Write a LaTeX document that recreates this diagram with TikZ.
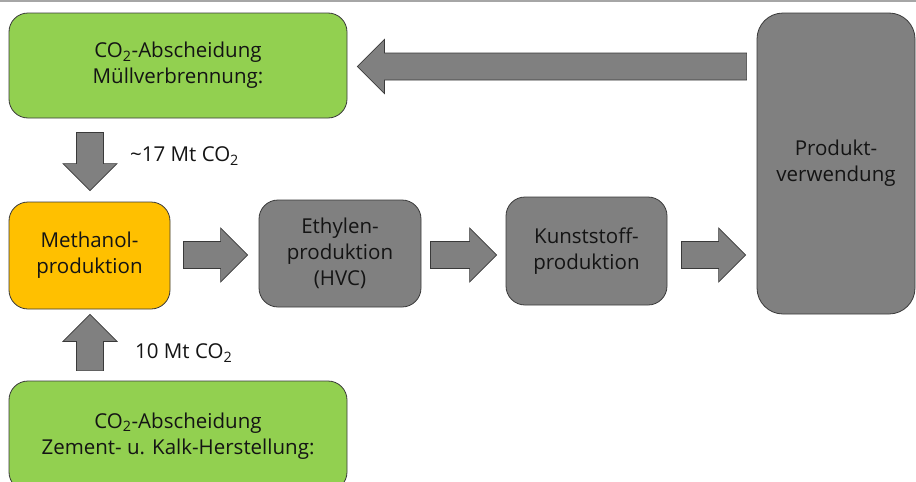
\documentclass[tikz,border=0pt]{standalone}
\usepackage{fontspec}
\setmainfont{Open Sans}
\usetikzlibrary{calc}

\definecolor{leafgreen}{HTML}{92D050}
\definecolor{amber}{HTML}{FFC000}
\definecolor{midgray}{HTML}{808080}
\definecolor{edgegray}{HTML}{3A3A3A}
\definecolor{rulegray}{HTML}{A6A6A6}

% block arrow from (#1) to (#2): shaft half-width, head half-width, head length
\newcommand\fatarrow[2]{%
  \coordinate (fa-h) at ($(#2)!27pt!(#1)$);
  \filldraw[blockarrow]
    ($(#1)!13.5pt!90:(#2)$) -- ($(fa-h)!13.5pt!90:(#2)$) -- ($(fa-h)!27pt!90:(#2)$)
    -- (#2) -- ($(fa-h)!27pt!-90:(#2)$) -- ($(fa-h)!13.5pt!-90:(#2)$)
    -- ($(#1)!13.5pt!-90:(#2)$) -- cycle;}

\begin{document}
\begin{tikzpicture}[x=1pt,y=-1pt,
  every node/.style={font=\fontsize{20.5}{26}\selectfont, text=black!92},
  box/.style={draw=edgegray, line width=0.8pt, rounded corners=19pt,
    align=center, inner sep=0pt},
  greenbox/.style={box, fill=leafgreen},
  amberbox/.style={box, fill=amber},
  graybox/.style={box, fill=midgray},
  blockarrow/.style={fill=midgray, draw=edgegray, line width=0.7pt, line join=miter},
  flowlabel/.style={anchor=west, inner sep=0pt}]

\useasboundingbox (0,0) rectangle (916,482);
\clip (0,0) rectangle (916,482);

% rule along the top edge
\draw[rulegray, line width=1.6pt] (0,0.8) -- (916,0.8);

% process boxes
\node[greenbox, minimum width=338pt, minimum height=105pt] (waste) at (178,65.5)
  {CO\textsubscript{2}-Abscheidung\\Müllverbrennung:};
\node[amberbox, minimum width=161pt, minimum height=107pt] (methanol) at (89.5,255.5)
  {Methanol-\\produktion};
\node[graybox, minimum width=162pt, minimum height=107pt] (ethylene) at (340,253.5)
  {Ethylen-\\produktion\\(HVC)};
\node[graybox, minimum width=161pt, minimum height=108pt] (plastics) at (586.5,251)
  {Kunststoff-\\produktion};
\node[graybox, rounded corners=26pt, minimum width=158pt, minimum height=301pt] (use) at (836,163.5)
  {Produkt-\\verwendung};
\node[greenbox, minimum width=338pt, minimum height=110pt] (cement) at (178,436)
  {CO\textsubscript{2}-Abscheidung\\Zement- u. Kalk-Herstellung:};

% arrow end points
\coordinate (r0s) at ($(use.west |- 0,66.5)+(-10,0)$);
\coordinate (r1) at ($(waste.east |- 0,66.5)+(10,0)$);
\coordinate (d0) at ($(waste.south -| 90,0)+(0,14)$);
\coordinate (d1) at ($(methanol.north -| 90,0)+(0,-11)$);
\coordinate (u0) at ($(cement.north -| 90,0)+(0,-10)$);
\coordinate (u1) at ($(methanol.south -| 90,0)+(0,5)$);
\coordinate (m0) at ($(methanol.east |- 0,255)+(13,0)$);
\coordinate (m1) at ($(ethylene.west |- 0,255)+(-11,0)$);
\coordinate (e0) at ($(ethylene.east |- 0,255)+(9,0)$);
\coordinate (e1) at ($(plastics.west |- 0,255)+(-9,0)$);
\coordinate (p0) at ($(plastics.east |- 0,255)+(14,0)$);
\coordinate (p1) at ($(use.west |- 0,255)+(-11,0)$);

% flow arrows
\fatarrow{r0s}{r1}
\fatarrow{d0}{d1}
\fatarrow{u0}{u1}
\fatarrow{m0}{m1}
\fatarrow{e0}{e1}
\fatarrow{p0}{p1}

% quantities
\node[flowlabel] (lq1) at (130,156) {\textasciitilde17 Mt CO\textsubscript{2}};
\node[flowlabel] (lq2) at (135,353) {10 Mt CO\textsubscript{2}};
\end{tikzpicture}
\end{document}
